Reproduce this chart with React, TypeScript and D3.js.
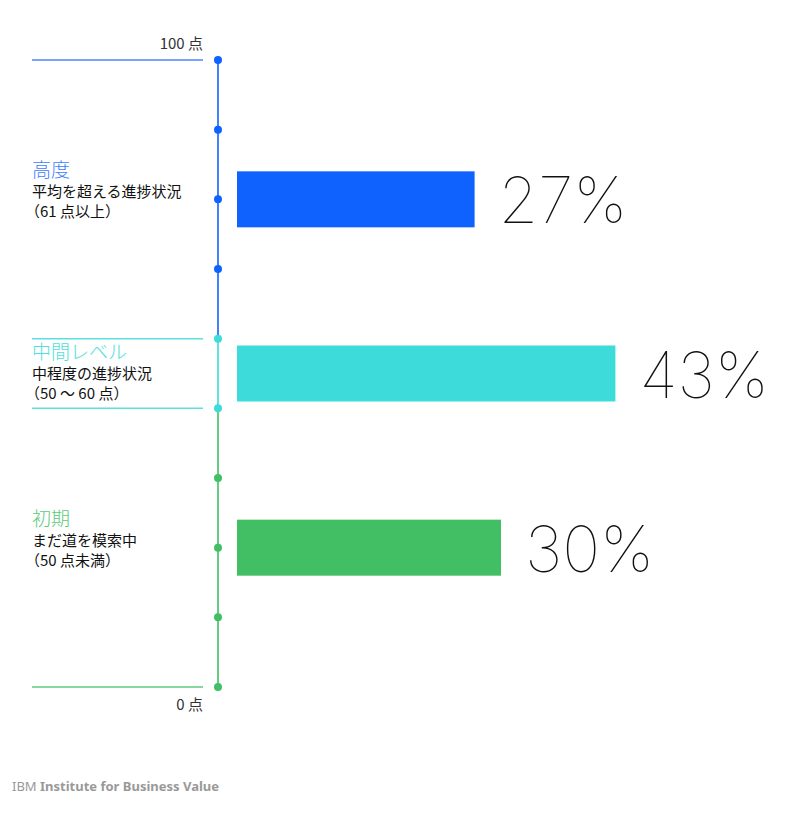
import * as d3 from "d3";

// tier labels, top to bottom
const tiers = ["高度", "中間レベル", "初期"];
const descriptions = ["平均を超える進捗状況", "中程度の進捗状況", "まだ道を模索中"];
const ranges = ["（61 点以上）", "（50 ～ 60 点）", "（50 点未満）"];
const shares = [27, 43, 30];
// tier spans on the 10-dot axis (dot index, 0 = bottom)
const spanLow = [5, 4, 0];
const spanHigh = [9, 5, 4];
const axisTop = "100 点";
const axisBottom = "0 点";
const dots = d3.range(10);

const colors = ["#0f62fe", "#3ddbd9", "#42be65"];
const titleColors = ["#3d7cff", "#4fe0dc", "#5cc97a"];
const cjk = "'Noto Sans CJK JP', 'Noto Sans', sans-serif";

export default function App() {
  const width = 800;
  const height = 821;
  const axisX = 218;
  const lineX0 = 32;
  const lineX1 = 203;
  const barX = 237;
  const barH = 56;

  const y = d3.scaleLinear().domain([0, 9]).range([687, 60]);
  const w = d3.scaleLinear().domain([0, 50]).range([0, 440]);

  const tierOf = (i: number) => {
    // boundary dots take the middle colour
    if (i === 4 || i === 5) return 1;
    return i > 5 ? 0 : 2;
  };

  return (
    <svg
      width={width}
      height={height}
      style={{ position: "absolute", left: 0, top: 0, background: "#fff" }}
    >
      {/* axis segments */}
      {tiers.map((t, i) => (
        <line
          key={"seg" + t}
          x1={axisX}
          x2={axisX}
          y1={y(spanHigh[i])}
          y2={y(spanLow[i])}
          stroke={colors[i]}
          strokeOpacity={0.8}
          strokeWidth={2}
        />
      ))}
      {/* horizontal guide lines */}
      <line x1={lineX0} x2={lineX1} y1={y(9)} y2={y(9)} stroke={colors[0]} strokeOpacity={0.75} strokeWidth={1.5} />
      <line x1={lineX0} x2={lineX1} y1={y(5)} y2={y(5)} stroke={colors[1]} strokeOpacity={0.85} strokeWidth={1.5} />
      <line x1={lineX0} x2={lineX1} y1={y(4)} y2={y(4)} stroke={colors[1]} strokeOpacity={0.85} strokeWidth={1.5} />
      <line x1={lineX0} x2={lineX1} y1={y(0)} y2={y(0)} stroke={colors[2]} strokeOpacity={0.85} strokeWidth={1.5} />
      {dots.map((d) => (
        <circle key={"dot" + d} cx={axisX} cy={y(d)} r={4} fill={colors[tierOf(d)]} />
      ))}
      <text x={lineX1} y={y(9) - 11} textAnchor="end" fontFamily={cjk} fontSize={15} fill="#333">
        {axisTop}
      </text>
      <text x={lineX1} y={y(0) + 23} textAnchor="end" fontFamily={cjk} fontSize={15} fill="#333">
        {axisBottom}
      </text>

      {tiers.map((t, i) => {
        const cy = y((spanLow[i] + spanHigh[i]) / 2);
        const ty = i === 1 ? y(spanHigh[i]) + 20 : cy - 22;
        return (
          <g key={t}>
            <rect x={barX} y={cy - barH / 2} width={w(shares[i])} height={barH} fill={colors[i]} />
            <text
              x={barX + w(shares[i]) + 24}
              y={cy + 24}
              fontFamily="Inter, 'Noto Sans', sans-serif"
              fontWeight={100}
              fontSize={64}
              fill="#111"
            >
              {shares[i]}%
            </text>
            <text x={lineX0} y={ty} fontFamily={cjk} fontWeight={300} fontSize={19} fill={titleColors[i]}>
              {t}
            </text>
            <text x={lineX0} y={ty + 20} fontFamily={cjk} fontSize={15} fill="#111">
              {descriptions[i]}
            </text>
            <text x={lineX0 - 7} y={ty + 40} fontFamily={cjk} fontSize={15} fill="#111">
              {ranges[i]}
            </text>
          </g>
        );
      })}

      <text x={12} y={791} fontFamily="'Noto Sans', sans-serif" fontSize={13} fill="#999">
        <tspan>IBM </tspan>
        <tspan fontWeight={700}>Institute for Business Value</tspan>
      </text>
    </svg>
  );
}
